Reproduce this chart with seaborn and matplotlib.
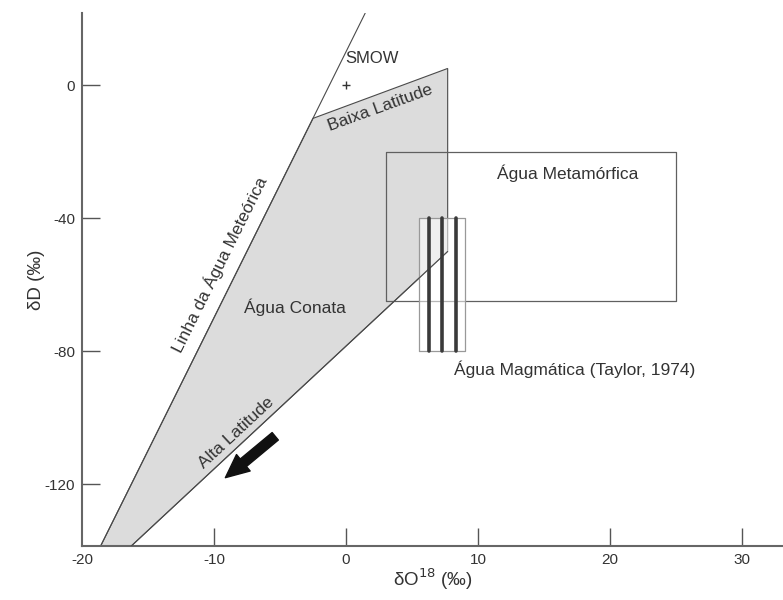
import matplotlib
matplotlib.use("Agg")
import matplotlib.pyplot as plt
import seaborn as sns
import pandas as pd

sns.set_style("ticks")
plt.rcParams['font.family'] = ['Liberation Sans', 'DejaVu Sans']

# linha da agua meteorica (extremos)
meteoric_x = [-18.9, 1.45]
meteoric_y = [-141.0, 21.6]

# campo da agua conata
conata_x = [-18.9, -2.5, 7.7, 7.7, -16.4]
conata_y = [-141.0, -10.0, 5.0, -50.0, -139.0]

# agua metamorfica (retangulo)
meta_x = [3.0, 25.0]
meta_y = [-65.0, -20.0]

# agua magmatica (Taylor, 1974)
magma_x = [5.5, 9.0]
magma_y = [-80.0, -40.0]
magma_lines = [6.3, 7.3, 8.3]

# SMOW
smow_x = [0.0]
smow_y = [0.0]

# seta de alta latitude
arrow_start = (-5.2, -105.0)
arrow_end = (-9.3, -118.5)

x_ticks = [-20, -10, 0, 10, 20, 30]
y_ticks = [0, -40, -80, -120]

fig = plt.figure(figsize=(7.83, 6), dpi=100)
ax = fig.add_axes([0.1047, 0.09, 0.8953, 0.888])

edge = '#4a4a4a'
txt = '#333333'

ax.fill(conata_x, conata_y, facecolor='#dcdcdc', edgecolor=edge, linewidth=0.8, zorder=1)

df_met = pd.DataFrame({'x': meteoric_x, 'y': meteoric_y})
sns.lineplot(data=df_met, x='x', y='y', color=edge, linewidth=0.8, ax=ax, zorder=2)

# retangulo metamorfico
ax.plot([meta_x[0], meta_x[1], meta_x[1], meta_x[0], meta_x[0]],
        [meta_y[0], meta_y[0], meta_y[1], meta_y[1], meta_y[0]],
        color='#606060', linewidth=0.9, zorder=3)

# retangulo magmatico
ax.fill([magma_x[0], magma_x[1], magma_x[1], magma_x[0]],
        [magma_y[0], magma_y[0], magma_y[1], magma_y[1]],
        facecolor='white', alpha=0.55, edgecolor='none', zorder=4)
ax.plot([magma_x[0], magma_x[1], magma_x[1], magma_x[0], magma_x[0]],
        [magma_y[0], magma_y[0], magma_y[1], magma_y[1], magma_y[0]],
        color='#999999', linewidth=0.9, zorder=5)
ax.plot([conata_x[3], conata_x[4]], [conata_y[3], conata_y[4]],
        color=edge, linewidth=0.8, zorder=5)
for xv in magma_lines:
    ax.plot([xv, xv], magma_y, color='#3a3a3a', linewidth=2.6, zorder=6)

sns.scatterplot(x=smow_x, y=smow_y, marker='+', s=30, color='#333333',
                linewidth=1.0, ax=ax, zorder=7)

ax.annotate('', xy=arrow_end, xytext=arrow_start,
            arrowprops=dict(arrowstyle='simple,head_length=1.2,head_width=1.1,tail_width=0.5',
                            color='#111111', mutation_scale=14), zorder=7)

fs = 12.5
ax.text(2.0, 8.0, 'SMOW', fontsize=fs - 0.5, color=txt, ha='center', va='center')
ax.text(2.4, -4.6, 'Baixa Latitude', fontsize=fs, color=txt, ha='center', va='top',
        rotation=20, rotation_mode='anchor')
ax.text(16.8, -26.5, 'Água Metamórfica', fontsize=fs, color=txt, ha='center', va='center')
ax.text(-3.9, -66.8, 'Água Conata', fontsize=fs, color=txt, ha='center', va='center')
ax.text(-9.0, -55.0, 'Linha da Água Meteórica', fontsize=fs, color=txt, ha='center',
        va='bottom', rotation=63.5, rotation_mode='anchor')
ax.text(-7.9, -106.0, 'Alta Latitude', fontsize=fs, color=txt, ha='center', va='bottom',
        rotation=42.9, rotation_mode='anchor')
ax.text(8.2, -85.3, 'Água Magmática (Taylor, 1974)', fontsize=fs, color=txt,
        ha='left', va='center')

ax.set_xlim(-20, 33.1)
ax.set_ylim(-138.5, 21.6)
ax.set_xticks(x_ticks)
ax.set_yticks(y_ticks)
ax.set_xticklabels([str(v) for v in x_ticks])
ax.set_yticklabels([str(v) for v in y_ticks])
ax.tick_params(direction='in', length=13, width=1.0, color='#555555',
               labelsize=11, labelcolor=txt, pad=5)
ax.xaxis.get_major_ticks()[0].tick1line.set_visible(False)

for s in ['top', 'right']:
    ax.spines[s].set_visible(False)
for s in ['left', 'bottom']:
    ax.spines[s].set_color('#666666')
    ax.spines[s].set_linewidth(1.5)

ax.set_xlabel('δO$^{18}$ (‰)', fontsize=13.5, color=txt, labelpad=0)
ax.set_ylabel('δD (‰)', fontsize=13.5, color=txt, labelpad=0)

fig.savefig('out.png', dpi=100)
